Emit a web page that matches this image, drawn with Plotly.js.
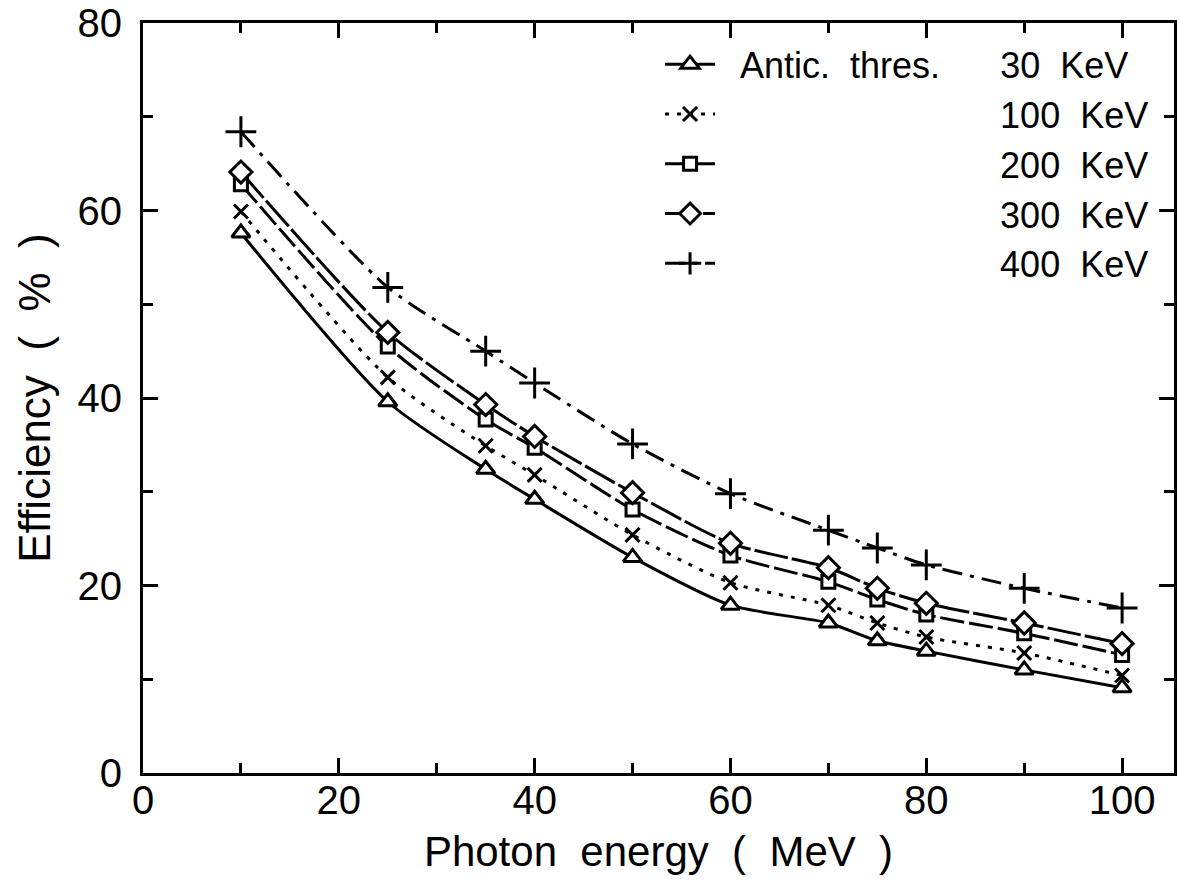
<!DOCTYPE html>
<html>
<head>
<meta charset="utf-8">
<script src="https://cdn.plot.ly/plotly-3.0.1.min.js"></script>
<style>html,body{margin:0;padding:0;background:#fff;}#chart{width:1180px;height:886px;}</style>
</head>
<body>
<div id="chart"></div>
<script>
// Photon energy (MeV)
const energy = [10, 25, 35, 40, 50, 60, 70, 75, 80, 90, 100];
// Efficiency (%) per anticoincidence threshold
const eff30  = [57.6, 39.6, 32.4, 29.2, 23.0, 17.9, 16.0, 14.1, 13.0, 11.0, 9.1];
const eff100 = [59.9, 42.2, 34.9, 31.8, 25.4, 20.3, 17.9, 16.0, 14.5, 12.8, 10.4];
const eff200 = [62.8, 45.5, 37.7, 34.7, 28.1, 23.2, 20.4, 18.5, 16.9, 14.9, 12.6];
const eff300 = [64.1, 47.0, 39.3, 35.9, 29.9, 24.5, 21.9, 19.7, 18.1, 16.0, 13.8];
const eff400 = [68.4, 51.8, 45.0, 41.6, 35.1, 29.8, 25.9, 24.0, 22.2, 19.7, 17.6];
const thresholdLabels = ['30  KeV', '100  KeV', '200  KeV', '300  KeV', '400  KeV'];
const legendHeader = 'Antic.  thres.';
const xTitle = 'Photon  energy  (  MeV  )';
const yTitle = 'Efficiency  (  %  )';

const NB = '\u00a0';
const pad = n => NB.repeat(n);
const nb = s => s.replace(/ /g, NB);
const seriesNames = thresholdLabels.map((t, i) =>
  i === 0 ? pad(2) + nb(legendHeader) + pad(6) + nb(t) : pad(28) + nb(t));

const FONT = 'Liberation Sans, Arial, sans-serif';
const ys = [eff30, eff100, eff200, eff300, eff400];
const styles = [
  {dash: 'solid', symbol: 'triangle-up', size: 16},
  {dash: '4px,8px', symbol: 'x-thin', size: 14},
  {dash: '24px,5px', symbol: 'square', size: 13},
  {dash: '34px,4px', symbol: 'diamond', size: 17},
  {dash: '20px,8px,4px,8px', symbol: 'cross-thin', size: 22}
];

const traces = ys.map((y, i) => ({
  x: energy, y: y, name: seriesNames[i], type: 'scatter', mode: 'lines+markers',
  line: {color: '#000', width: 3, dash: styles[i].dash, shape: 'spline', smoothing: 0.7},
  marker: {symbol: styles[i].symbol, size: styles[i].size, color: '#fff',
           line: {color: '#000', width: 3}}
}));

const axisCommon = {
  showline: true, linecolor: '#000', linewidth: 3, mirror: 'ticks',
  ticks: 'inside', tickcolor: '#000', tickwidth: 3, ticklen: 15,
  showgrid: false, zeroline: false,
  tickfont: {family: FONT, size: 40, color: '#000'},
  minor: {dtick: 10, ticks: 'inside', ticklen: 10, tickwidth: 3, tickcolor: '#000', showgrid: false}
};

const layout = {
  width: 1180, height: 886,
  margin: {l: 143, r: 6, t: 23, b: 113},
  paper_bgcolor: '#fff', plot_bgcolor: '#fff',
  font: {family: FONT, color: '#000'},
  xaxis: Object.assign({}, axisCommon, {
    range: [0, 105.3], dtick: 20, tick0: 0, ticklabelstandoff: -10,
    title: {text: nb(xTitle), font: {family: FONT, size: 42, color: '#000'}, standoff: 16}
  }),
  yaxis: Object.assign({}, axisCommon, {
    range: [0, 80], dtick: 20, tick0: 0, ticklabelstandoff: 10,
    title: {text: nb(yTitle), font: {family: FONT, size: 44, color: '#000'}, standoff: 14}
  }),
  legend: {
    x: 0.5015, y: 0.985, xanchor: 'left', yanchor: 'top', bgcolor: 'rgba(0,0,0,0)',
    font: {family: FONT, size: 36, color: '#000'}, itemwidth: 50, tracegroupgap: 0
  },
  showlegend: true
};

Plotly.newPlot('chart', traces, layout, {displayModeBar: false, staticPlot: true});
</script>
</body>
</html>
